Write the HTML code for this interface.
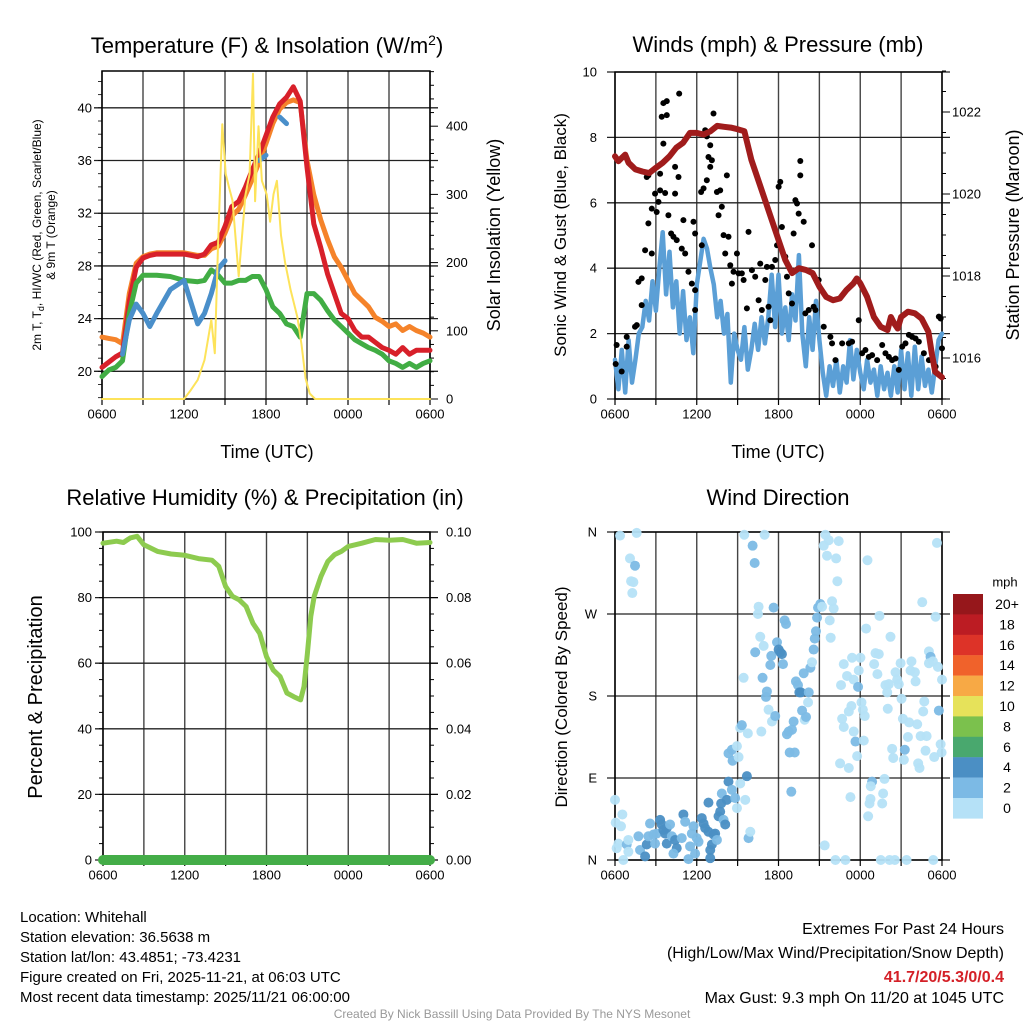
<!DOCTYPE html>
<html><head><meta charset="utf-8"><style>
html,body{margin:0;padding:0;background:#fff;}
svg{display:block;font-family:"Liberation Sans",Arial,sans-serif;}
</style></head><body>
<svg id="c" width="1024" height="1024" viewBox="0 0 1024 1024" xmlns="http://www.w3.org/2000/svg">
<rect width="1024" height="1024" fill="#fff"/>
<g id="g"></g>
<text x="267" y="53" font-size="22" text-anchor="middle">Temperature (F) &amp; Insolation (W/m<tspan dy="-8" font-size="14">2</tspan><tspan dy="8">)</tspan></text>
<text x="778" y="52" font-size="22" text-anchor="middle">Winds (mph) &amp; Pressure (mb)</text>
<text x="265" y="505" font-size="22" text-anchor="middle">Relative Humidity (%) &amp; Precipitation (in)</text>
<text x="778" y="505" font-size="22" text-anchor="middle">Wind Direction</text>
<text x="267" y="458" font-size="18" text-anchor="middle">Time (UTC)</text>
<text x="778" y="458" font-size="18" text-anchor="middle">Time (UTC)</text>
<text transform="translate(41,235) rotate(-90)" font-size="12" text-anchor="middle">2m T, T<tspan dy="3" font-size="9">d</tspan><tspan dy="-3">, HI/WC (Red, Green, Scarlet/Blue)</tspan></text>
<text transform="translate(55,235) rotate(-90)" font-size="12" text-anchor="middle">&amp; 9m T (Orange)</text>
<text transform="translate(500,235) rotate(-90)" font-size="18" text-anchor="middle">Solar Insolation (Yellow)</text>
<text transform="translate(566,235) rotate(-90)" font-size="17" text-anchor="middle">Sonic Wind &amp; Gust (Blue, Black)</text>
<text transform="translate(1019,235) rotate(-90)" font-size="18" text-anchor="middle">Station Pressure (Maroon)</text>
<text transform="translate(42,697) rotate(-90)" font-size="20" text-anchor="middle">Percent &amp; Precipitation</text>
<text transform="translate(567,697) rotate(-90)" font-size="17" text-anchor="middle">Direction (Colored By Speed)</text>
<g font-size="15">
<text x="20" y="922">Location: Whitehall</text>
<text x="20" y="942">Station elevation: 36.5638 m</text>
<text x="20" y="962">Station lat/lon: 43.4851; -73.4231</text>
<text x="20" y="982">Figure created on Fri, 2025-11-21, at 06:03 UTC</text>
<text x="20" y="1002">Most recent data timestamp: 2025/11/21 06:00:00</text>
</g>
<g font-size="16" text-anchor="end">
<text x="1004" y="934">Extremes For Past 24 Hours</text>
<text x="1004" y="958">(High/Low/Max Wind/Precipitation/Snow Depth)</text>
<text x="1004" y="982" fill="#d42027" font-weight="bold">41.7/20/5.3/0/0.4</text>
<text x="1004" y="1003">Max Gust: 9.3 mph On 11/20 at 1045 UTC</text>
</g>
<text x="512" y="1018" font-size="12" fill="#999" text-anchor="middle">Created By Nick Bassill Using Data Provided By The NYS Mesonet</text>
</svg>
<script>
// ---------- DATA ----------
const xTickLabels = ["0600","1200","1800","0000","0600"];
const tempTimes = [0,0.5,1,1.5,2,2.5,3,3.5,4,5,6,7,7.5,8,8.5,9,9.5,10,10.5,11,11.5,12,12.5,13,13.5,14,14.5,15,15.5,16,16.5,17,17.5,18,18.5,19,19.5,20,20.5,21,21.5,22,22.5,23,23.5,24];
const tempRed = [20.3,20.7,21.1,21.4,25.3,27.9,28.6,28.8,28.9,28.9,28.9,28.7,28.9,29.6,29.8,31,32.5,32.9,34,35.3,36.5,37.9,39.3,40.3,40.8,41.6,40.5,35.5,31.2,29.4,27.4,25.9,24.4,24,23.1,22.6,22.6,22.2,21.8,21.6,21.3,21.8,21.3,21.6,21.6,21.6];
const tempOrange = [22.6,22.5,22.4,22.1,25.9,28.2,28.7,28.9,29,29,29,28.8,28.8,29.3,29.5,30.5,31.8,32.3,33.4,34.6,35.9,37.3,38.8,39.9,40.4,40.6,40.4,36,33.4,31.5,30,28.7,27.9,26.9,25.9,25.4,24.9,24.1,23.8,23.4,23.6,23.1,23.4,23.1,22.9,22.6];
const tempGreen = [19.6,20.1,20.3,20.8,24.4,26.7,27.3,27.3,27.3,27.2,26.9,26.8,26.9,27.7,27.3,26.7,26.7,26.9,26.9,27.2,27.2,26.2,24.9,24.4,23.6,23.4,22.6,25.9,25.9,25.4,24.6,23.9,23.4,22.9,22.4,22.1,21.8,21.6,21.3,20.8,20.6,20.3,20.6,20.3,20.6,20.8];
const tempBlue = [null,null,null,21.3,23.9,25.1,24.4,23.4,24.4,26.2,26.9,23.6,24.4,25.9,27.8,28.4,null,null,null,null,36,36.4,null,39.3,38.8,null,null,null,null,null,null,null,null,null,null,null,null,null,null,null,null,null,null,null,null,19.2];
const insolTimes = [0,6,6.5,7,7.5,8,8.25,8.5,8.8,9.05,9.3,9.55,10,10.5,10.8,11.05,11.2,11.45,11.7,12.05,12.3,12.55,12.8,13.1,13.4,13.8,14.3,14.6,14.9,15.2,15.6,24];
const insolValues = [0,0,13,28,57,116,67,233,403,330,310,291,180,300,330,477,290,400,320,300,260,300,320,240,200,160,120,80,30,8,0,0];
const windTimes = [0,0.25,0.5,0.75,1,1.25,1.5,1.75,2,2.25,2.5,2.75,3,3.25,3.5,3.75,4,4.25,4.5,4.75,5,5.25,5.5,5.75,6,6.25,6.5,6.75,7,7.25,7.5,7.75,8,8.25,8.5,8.75,9,9.25,9.5,9.75,10,10.25,10.5,10.75,11,11.25,11.5,11.75,12,12.25,12.5,12.75,13,13.25,13.5,13.75,14,14.25,14.5,14.75,15,15.25,15.5,15.75,16,16.25,16.5,16.75,17,17.25,17.5,17.75,18,18.25,18.5,18.75,19,19.25,19.5,19.75,20,20.25,20.5,20.75,21,21.25,21.5,21.75,22,22.25,22.5,22.75,23,23.25,23.5,23.75,24];
const windSpeeds = [1.2,0.3,1.5,0.2,1.8,0.5,1.2,2.0,2.2,3.0,2.4,3.6,2.7,4.0,5.1,3.2,4.5,2.8,3.6,2.0,3.3,1.8,2.5,1.4,3.5,4.2,4.9,4.6,4.0,3.5,2.5,3.0,2.0,2.6,0.5,2.0,1.5,1.2,2.2,0.9,1.5,2.3,1.5,2.5,1.7,2.5,3.8,2.2,3.8,2.0,2.8,1.8,3.2,2.4,4.4,2.0,1.0,2.5,1.5,3.0,1.8,0.8,0.1,1.0,0.4,1.2,0.2,1.0,0.5,1.8,0.6,1.5,0.8,0.3,1.2,0.5,0.9,0.1,1.0,0.3,0.8,0.1,1.0,0.2,1.5,0.3,1.4,0.1,1.6,0.3,1.3,0.4,0.9,0.2,1.0,1.8,2.0];
const gustTimes = [0.05,0.12,0.49,0.86,0.86,1.47,1.6,1.96,1.72,1.96,2.21,2.45,2.33,2.45,2.7,2.7,2.94,3.06,3.19,3.31,3.31,3.43,3.8,3.55,3.8,3.55,3.68,3.92,4.12,4.29,4.41,4.41,4.66,4.71,4.53,4.9,5.02,5.15,5.39,5.64,5.76,5.88,5.88,5.88,6.37,6.32,6.5,6.62,6.74,6.99,6.86,7.11,6.99,6.74,7.23,7.48,7.72,7.6,7.84,7.97,8.09,8.21,8.33,8.46,8.58,8.7,8.95,9.07,9.31,9.44,9.68,9.8,10.05,10.29,10.54,10.66,10.78,11.03,11.15,11.27,11.4,11.52,11.76,11.89,12.01,12.13,12.25,12.5,12.62,12.75,13.24,13.36,13.48,13.6,13.6,13.85,13.11,12.99,13.97,14.22,14.46,14.58,14.71,14.95,15.32,15.81,15.93,16.18,16.67,17.16,17.4,17.89,18.14,18.38,18.63,18.87,19.24,19.61,19.85,20.1,20.34,20.59,20.83,21.08,21.32,21.57,21.81,22.06,22.3,22.67,23.04,23.53,23.77,23.9,24.0];
const gustSpeeds = [1.07,1.65,0.84,1.6,1.9,2.21,2.26,2.87,3.58,3.69,4.55,5.37,6.79,6.84,4.45,5.82,6.28,5.72,6.03,6.38,6.89,8.63,8.68,9.05,9.11,7.81,6.3,5.62,5.06,4.96,6.28,7.1,6.79,9.34,4.86,4.6,5.47,4.45,3.89,3.53,5.42,5.06,3.33,2.72,4.7,6.33,6.44,8.22,8.03,7.76,7.4,7.3,7.1,6.69,8.73,6.33,6.38,5.62,5.88,5.01,4.45,6.84,4.96,4.09,3.53,3.89,4.45,3.84,3.84,3.64,2.77,5.11,3.94,3.74,3.02,4.14,2.72,3.64,4.04,2.82,2.41,4.04,4.25,4.7,6.49,6.64,5.26,4.35,3.74,3.23,6.08,5.98,5.67,7.28,6.84,5.42,5.06,2.92,2.62,2.72,4.7,2.82,2.72,3.64,2.21,1.9,1.7,1.19,1.7,1.7,1.75,2.41,1.4,1.5,1.29,1.34,1.19,1.65,1.4,1.29,1.19,1.24,0.89,1.6,1.7,1.96,1.9,1.85,1.75,1.4,1.19,0.99,2.52,2.46,1.55];
const presTimes = [0,0.25,0.5,0.75,1,1.5,2,2.5,3,3.5,4,4.5,5,5.5,6,6.5,7,7.5,8,8.5,9,9.5,10,10.5,11,11.5,12,12.5,13,13.5,14,14.5,15,15.5,16,16.5,17,17.5,17.75,18,18.5,19,19.5,20,20.25,20.5,20.75,21,21.5,22,22.5,23,23.25,23.5,24];
const presValues = [1020.92,1020.8,1020.88,1020.96,1020.76,1020.6,1020.55,1020.51,1020.64,1020.76,1020.92,1021.13,1021.25,1021.49,1021.49,1021.45,1021.53,1021.66,1021.64,1021.62,1021.58,1021.53,1020.84,1020.35,1019.86,1019.37,1018.88,1018.39,1018.07,1018.19,1018.15,1018.07,1017.74,1017.49,1017.41,1017.45,1017.66,1017.82,1017.94,1017.82,1017.49,1017.0,1016.76,1016.68,1017.0,1016.84,1016.72,1017.0,1017.13,1017.09,1016.96,1016.64,1016.11,1015.66,1015.53];
const rhTimes = [0,1,1.5,2,2.5,3,4,5,6,7,8,8.5,9,9.5,10,10.5,11,11.5,12,12.5,13,13.5,14,14.5,14.75,15,15.25,15.5,16,16.5,17,17.5,18,19,20,21,22,23,24];
const rhValues = [96.6,97.2,96.8,98.2,98.7,96.1,94.1,93.3,92.9,91.9,91.4,89.5,83.4,80.4,79.3,77.3,72.2,69.1,62,57.9,55.9,50.9,49.8,48.8,52.9,63,74.3,80.4,86.5,91,93.1,94.1,95.6,96.6,97.7,97.5,97.7,96.6,96.8];
const precipTimes = [0,24];
const precipValues = [0,0];
const dirTimes = [0.37,1.59,1.1,1.47,1.18,1.35,1.27,0,0.54,0.05,0.44,0.25,0.12,0.86,0.98,0.98,0.61,1.72,1.84,2.21,2.33,2.45,2.57,2.82,2.94,3.06,3.31,3.43,3.55,3.68,3.8,4.04,3.8,4.17,4.41,4.53,4.29,4.9,5.02,5.15,5.39,5.51,5.64,5.76,5.88,6.0,6.13,6.37,6.5,6.62,6.86,6.99,7.11,6.99,7.23,7.35,7.48,7.6,7.72,7.79,7.97,8.09,6.86,7.84,8.21,8.33,8.58,8.82,8.95,9.19,9.56,9.68,9.8,9.93,8.33,8.58,8.63,8.95,9.07,9.19,9.31,9.75,9.44,10.74,10.83,11.08,11.15,11.27,11.52,11.76,11.4,11.47,10.29,10.91,10.66,11.89,12.01,12.13,12.25,12.33,12.62,12.75,12.99,13.11,12.82,13.19,13.28,13.43,13.53,13.65,13.85,13.73,13.92,14.02,14.22,14.17,14.34,14.46,14.58,14.66,14.75,14.83,14.9,15.07,15.2,12.45,12.55,11.64,10.54,10.49,10.1,10.25,9.49,10.98,12.94,15.44,15.69,16.42,15.32,15.56,16.23,16.32,15.93,16.05,15.76,15.83,18.53,18.43,19.41,20.22,22.55,23.53,23.63,16.79,17.03,17.4,17.52,16.59,17.89,17.84,18.01,19.02,19.26,19.12,19.36,19.85,20.1,19.98,20.59,20.71,20.83,20.96,21.76,21.69,22.01,22.06,23.04,23.16,23.04,23.33,23.7,24.0,21.03,22.7,22.62,17.16,17.35,16.67,16.79,18.09,18.19,18.33,20.02,21.13,21.59,22.18,23.77,17.52,17.65,18.26,21.5,22.43,22.87,23.9,20.34,21.27,22.79,23.97,20.42,21.2,23.43,17.77,16.52,17.16,22.25,22.35,19.78,18.87,18.77,19.68,18.75,18.68,19.61,17.28,18.58,15.39,16.18,16.91,19.51,20.15,20.54,21.4,23.36];
const dirDegrees = [356,359,331,323,306,305,293,66,50,41,37,18,13,17,22,9,0,26,11,4,17,26,40,28,18,29,44,39,33,29,35,39,18,26,22,13,7,24,50,42,1,15,29,37,7,24,20,46,40,35,31,11,17,2,28,29,22,48,53,62,44,39,63,73,66,86,77,68,57,84,66,92,24,31,117,121,109,125,113,145,148,139,200,141,200,179,185,165,152,158,214,224,228,235,245,239,231,228,226,215,138,141,143,152,118,118,196,192,184,184,205,164,154,157,184,173,211,217,231,243,251,266,277,281,278,263,259,277,278,270,345,326,357,357,75,357,351,350,345,334,331,306,284,276,263,244,329,254,268,245,283,267,348,215,202,222,198,192,208,190,222,215,204,227,226,192,193,184,206,198,193,216,218,208,206,196,229,223,216,218,212,198,177,174,163,163,169,155,146,173,165,158,166,155,151,149,164,141,130,131,135,136,136,127,122,121,120,118,112,110,113,114,106,101,106,101,89,86,81,73,67,62,62,69,48,16,0,0,0,0,0,0,0];
const dirSpeeds = [1,1,1,3,1,1,1,1,1,1,1,1,1,3,1,1,1,3,3,5,5,3,3,3,3,3,5,5,5,5,5,3,5,3,5,5,3,3,5,3,3,3,3,3,3,3,3,5,5,5,5,5,5,5,5,5,3,5,5,5,3,5,5,3,5,5,3,3,1,1,1,5,3,1,3,3,3,1,1,1,3,1,1,1,3,3,3,1,1,3,3,3,3,1,1,3,5,5,5,3,3,3,3,3,3,3,3,3,5,5,3,3,1,3,3,1,3,1,3,3,3,3,3,3,1,3,3,3,1,1,3,3,1,1,3,1,1,1,1,1,1,1,1,1,1,1,1,1,1,1,1,1,1,1,1,1,1,1,1,3,1,1,1,1,1,1,1,1,1,1,1,1,1,1,1,1,1,3,1,1,1,1,1,1,1,1,1,1,1,1,1,1,1,1,1,1,3,1,3,1,1,1,1,1,1,3,1,1,1,1,1,1,1,1,1,1,1,3,1,1,1,1,1,1,1,1,1,1,1,1,1,1,1,1,1,1];
const cbarLabels = ["20+","18","16","14","12","10","8","6","4","2","0"];
const cbarColors = ["#96171b","#bc1c23","#dd3328","#f0622b","#f7a945","#e6e25a","#7bc14d","#49a86e","#4b8fc4","#7cbae5","#b5e1f7"];
const tempTicks = [20,24,28,32,36,40];
const insolTicks = [0,100,200,300,400];
const windTicks = [0,2,4,6,8,10];
const presTicks = [1016,1018,1020,1022];
const rhTicks = [0,20,40,60,80,100];
const precipTicks = ["0.00","0.02","0.04","0.06","0.08","0.10"];
const dirTicks = ["N","E","S","W","N"];

// ---------- DRAW ----------
const NS="http://www.w3.org/2000/svg";
const G=document.getElementById('g');
function mk(tag,attrs,parent){const e=document.createElementNS(NS,tag);for(const k in attrs)e.setAttribute(k,attrs[k]);(parent||G).appendChild(e);return e;}
function txt(x,y,s,size,anchor,parent){const t=mk('text',{x:x,y:y,'font-size':size,'text-anchor':anchor,'dominant-baseline':'central'},parent);t.textContent=s;return t;}

function panel(name,L,R,T,B){
  const g=mk('g',{});
  
  
  return {g,L,R,T,B,x:t=>L+t*(R-L)/24};
}
function frameGrid(p,hVals,yFn){
  const gg=mk('g',{},p.g);
  
  
  for(let h=0;h<=24;h+=3){const X=p.x(h);mk('line',{x1:X,x2:X,y1:p.T,y2:p.B,stroke:'#444','stroke-width':1.4},gg);mk('line',{x1:X,x2:X,y1:p.B,y2:p.B+6,stroke:'#000','stroke-width':1.2},gg);}
  hVals.forEach(v=>{const Y=yFn(v);mk('line',{x1:p.L-8,x2:p.R+8,y1:Y,y2:Y,stroke:'#222','stroke-width':1.3},gg);});
  mk('rect',{x:p.L,y:p.T,width:p.R-p.L,height:p.B-p.T,fill:'none',stroke:'#000','stroke-width':1.5},gg);
  xTickLabels.forEach((s,i)=>{const l=txt(p.x(i*6),p.B+15,s,13,'middle',gg);});
}
function line(p,ts,vs,yFn,color,w,name){
  let d='',pen=false;
  ts.forEach((t,i)=>{const v=vs[i];if(v===null||v===undefined){pen=false;return;}d+=(pen?'L':'M')+p.x(t).toFixed(1)+','+yFn(v).toFixed(1);pen=true;});
  const e=mk('path',{d:d,fill:'none',stroke:color,'stroke-width':w,'stroke-linejoin':'round','stroke-linecap':'round'},p.g);
  
  
  return e;
}

// Panel 1 temperature
const p1=panel('temperature-chart',102,430,71,399);
const yT=v=>399-(v-17.9)*52.7/4, yI=v=>399-v*0.682;
frameGrid(p1,tempTicks,yT);
tempTicks.forEach(v=>txt(92,yT(v),String(v),13,'end',p1.g));
for(let v=0;v<=480;v+=20){const Y=yI(v);mk('line',{x1:430,x2:v%100===0?438:434,y1:Y,y2:Y,stroke:'#000'},p1.g);}
for(let v=18;v<=42;v+=1){const Y=yT(v);mk('line',{x1:98,x2:102,y1:Y,y2:Y,stroke:'#000','stroke-width':0.8},p1.g);}
insolTicks.forEach(v=>txt(446,yI(v),String(v),13,'start',p1.g));
line(p1,tempTimes,tempOrange,yT,'#f5832a',5,'series-9m-temp');
line(p1,tempTimes,tempRed,yT,'#d8202a',5,'series-2m-temp');
line(p1,tempTimes,tempGreen,yT,'#41ad44',5,'series-dewpoint');
line(p1,tempTimes,tempBlue,yT,'#4a8fca',5,'series-heat-index-wind-chill');
line(p1,insolTimes,insolValues,yI,'#fde35a',2,'series-insolation');

// Panel 2 winds
const p2=panel('wind-pressure-chart',615,942,72,399);
const yW=v=>399-v*32.7, yP=v=>358-(v-1016)*41;
frameGrid(p2,windTicks,yW);
windTicks.forEach(v=>txt(597,yW(v),String(v),13,'end',p2.g));
for(let v=1015;v<=1023;v+=0.5){const Y=yP(v);mk('line',{x1:942,x2:v%2===0?950:946,y1:Y,y2:Y,stroke:'#000'},p2.g);}
presTicks.forEach(v=>txt(952,yP(v),String(v),13,'start',p2.g));
line(p2,windTimes,windSpeeds,yW,'#5b9fd6',4.5,'series-sonic-wind');
gustTimes.forEach((t,i)=>{const c=mk('circle',{cx:p2.x(t),cy:yW(gustSpeeds[i]),r:3,fill:'#000'},p2.g);
  
  });
line(p2,presTimes,presValues,yP,'#a01c1c',6,'series-pressure');

// Panel 3 RH
const p3=panel('humidity-chart',103,430,532,860);
const yR=v=>860-v*3.28, yPr=v=>860-v*3280;
frameGrid(p3,rhTicks,yR);
rhTicks.forEach(v=>txt(92,yR(v),String(v),13,'end',p3.g));
for(let v=0;v<=100;v+=5){const Y=yR(v);mk('line',{x1:430,x2:v%20===0?438:434,y1:Y,y2:Y,stroke:'#000'},p3.g);mk('line',{x1:99,x2:103,y1:Y,y2:Y,stroke:'#000'},p3.g);}
precipTicks.forEach((s,i)=>txt(446,yR(i*20),s,13,'start',p3.g));
line(p3,rhTimes,rhValues,yR,'#8dcb4f',5,'series-relative-humidity');
line(p3,precipTimes,precipValues,yPr,'#44ad48',10,'series-precipitation');

// Panel 4 wind direction
const p4=panel('wind-direction-chart',615,942,532,860);
const yD=v=>860-v*328/360;
frameGrid(p4,[0,90,180,270,360],yD);
dirTicks.forEach((s,i)=>txt(597,yD(i*90),s,13,'end',p4.g));
function spdColor(s){const idx=Math.min(10,Math.floor(s/2));return cbarColors[10-idx];}
dirTimes.forEach((t,i)=>{const c=mk('circle',{cx:p4.x(t),cy:yD(dirDegrees[i]),r:5,fill:spdColor(dirSpeeds[i]),'fill-opacity':0.95},p4.g);
  
  });
// colorbar
const cb=mk('g',{});


txt(1005,582,'mph',13,'middle',cb);
cbarColors.forEach((c,i)=>{mk('rect',{x:953,y:594+i*20.4,width:30,height:20.6,fill:c},cb);
  const l=txt(1007,604+i*20.4,cbarLabels[i],14,'middle',cb);
  
  });
</script>
</body></html>
